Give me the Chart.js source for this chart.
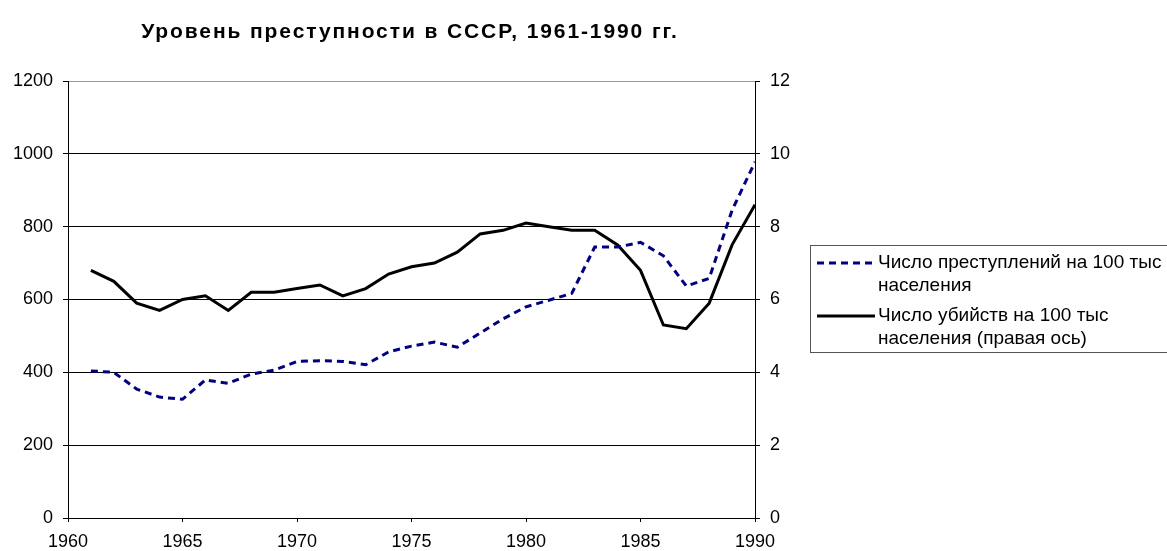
<!DOCTYPE html>
<html lang="ru">
<head>
<meta charset="utf-8">
<title>Уровень преступности в СССР</title>
<script src="https://cdn.jsdelivr.net/npm/chart.js@4.4.1/dist/chart.umd.min.js"></script>
<style>
  html, body { margin: 0; padding: 0; background: #fff; }
  #wrap { width: 1167px; height: 551px; position: relative; }
</style>
</head>
<body>
<div id="wrap"><canvas id="crimeChart" width="1167" height="551"></canvas></div>
<script>
const chartTitle = 'Уровень преступности в СССР, 1961-1990 гг.';
const years = [1961, 1962, 1963, 1964, 1965, 1966, 1967, 1968, 1969, 1970,
               1971, 1972, 1973, 1974, 1975, 1976, 1977, 1978, 1979, 1980,
               1981, 1982, 1983, 1984, 1985, 1986, 1987, 1988, 1989, 1990];
// преступлений на 100 тыс населения (левая ось)
const crimes = [404, 400, 354, 332, 326, 379, 370, 395, 406, 430,
                432, 430, 421, 456, 472, 483, 469, 508, 547, 580,
                598, 617, 744, 744, 757, 720, 637, 658, 845, 978];
// убийств на 100 тыс населения (правая ось)
const murders = [6.8, 6.5, 5.9, 5.7, 6.0, 6.1, 5.7, 6.2, 6.2, 6.3,
                 6.4, 6.1, 6.3, 6.7, 6.9, 7.0, 7.3, 7.8, 7.9, 8.1,
                 8.0, 7.9, 7.9, 7.5, 6.8, 5.3, 5.2, 5.9, 7.5, 8.6];
const crimesLabel = ['Число преступлений на 100 тыс', 'населения'];
const murdersLabel = ['Число убийств на 100 тыс', 'населения (правая ось)'];
const xTicks = [1960, 1965, 1970, 1975, 1980, 1985, 1990];
const leftTicks = [0, 200, 400, 600, 800, 1000, 1200];
const rightTicks = [0, 2, 4, 6, 8, 10, 12];

const FONT = "'Liberation Sans', Arial, sans-serif";
const tickFont = { family: FONT, size: 18 };

// заголовок и легенда рисуются вручную (как в Excel)
const excelDecor = {
    id: 'excelDecor',
    afterDraw(chart) {
        const ctx = chart.ctx;
        const area = chart.chartArea;
        ctx.save();
        ctx.fillStyle = '#000';
        ctx.font = `bold 21px ${FONT}`;
        ctx.textAlign = 'center';
        ctx.textBaseline = 'middle';
        if ('letterSpacing' in ctx) ctx.letterSpacing = '1.9px';
        ctx.fillText(chartTitle, 410, 32);
        if ('letterSpacing' in ctx) ctx.letterSpacing = '0px';

        // рамка легенды
        const lx = area.right + 55, ly = 245;
        ctx.strokeStyle = '#555';
        ctx.lineWidth = 1;
        ctx.strokeRect(lx + 0.5, ly + 0.5, 400, 107);

        ctx.font = `19px ${FONT}`;
        ctx.textAlign = 'left';
        const items = [
            { ds: chart.data.datasets[0], lines: crimesLabel, y: ly + 18 },
            { ds: chart.data.datasets[1], lines: murdersLabel, y: ly + 71 }
        ];
        items.forEach(it => {
            ctx.beginPath();
            ctx.strokeStyle = it.ds.borderColor;
            ctx.lineWidth = it.ds.borderWidth;
            ctx.setLineDash(it.ds.borderDash || []);
            ctx.moveTo(lx + 7, it.y);
            ctx.lineTo(lx + 65, it.y);
            ctx.stroke();
            ctx.setLineDash([]);
            it.lines.forEach((t, i) => ctx.fillText(t, lx + 68, it.y + i * 23));
        });
        ctx.restore();
    }
};

const ctx = document.getElementById('crimeChart').getContext('2d');
new Chart(ctx, {
    type: 'line',
    data: {
        datasets: [{
            label: crimesLabel.join(' '),
            data: years.map((y, i) => ({ x: y, y: crimes[i] })),
            borderColor: '#000080',
            borderWidth: 3,
            borderDash: [7, 5],
            borderCapStyle: 'butt',
            pointRadius: 0,
            tension: 0,
            yAxisID: 'y'
        }, {
            label: murdersLabel.join(' '),
            data: years.map((y, i) => ({ x: y, y: murders[i] })),
            borderColor: '#000000',
            borderWidth: 3,
            pointRadius: 0,
            tension: 0,
            yAxisID: 'y1'
        }]
    },
    options: {
        responsive: false,
        animation: false,
        layout: { padding: { top: 81, right: 372, left: 0, bottom: 0 } },
        plugins: {
            legend: { display: false },
            title: { display: false },
            tooltip: { enabled: false }
        },
        scales: {
            x: {
                type: 'linear',
                min: 1960,
                max: 1990,
                afterBuildTicks: s => { s.ticks = xTicks.map(v => ({ value: v })); },
                afterFit: s => { s.height = 33; },
                ticks: { color: '#000', font: tickFont, padding: 9, maxRotation: 0, callback: v => String(v) },
                grid: { drawOnChartArea: false, tickLength: 4, color: '#000' },
                border: { color: '#000', width: 1 }
            },
            y: {
                position: 'left',
                min: 0,
                max: 1200,
                afterBuildTicks: s => { s.ticks = leftTicks.map(v => ({ value: v })); },
                afterFit: s => { s.width = 68; },
                ticks: { color: '#000', font: tickFont, padding: 10, callback: v => String(v) },
                grid: {
                    color: c => (c.tick && c.tick.value === 1200) ? '#9a9a9a' : '#000',
                    tickColor: '#000',
                    tickLength: 5,
                    lineWidth: 1
                },
                border: { color: '#000', width: 1 }
            },
            y1: {
                position: 'right',
                min: 0,
                max: 12,
                afterBuildTicks: s => { s.ticks = rightTicks.map(v => ({ value: v })); },
                afterFit: s => { s.width = 40; },
                ticks: { color: '#000', font: tickFont, padding: 10, callback: v => String(v) },
                grid: { drawOnChartArea: false, tickLength: 5, color: '#000' },
                border: { color: '#000', width: 1 }
            }
        }
    },
    plugins: [excelDecor]
});
</script>
</body>
</html>
